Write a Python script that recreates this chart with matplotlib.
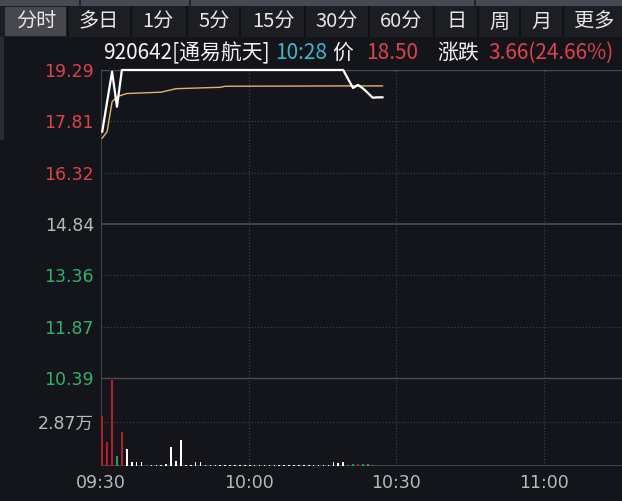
import matplotlib
matplotlib.use("Agg")
import matplotlib.pyplot as plt
from matplotlib.patches import Rectangle
from matplotlib.lines import Line2D

plt.rcParams['font.family'] = ['DejaVu Sans', 'Noto Sans CJK SC']

# ---------------- data ----------------
tabs = ["分时", "多日", "1分", "5分", "15分", "30分", "60分", "日", "周", "月", "更多"]
stock_code = "920642[通易航天]"
quote_time = "10:28"
last_price = "18.50"
change_text = "3.66(24.66%)"

price_ticks = [19.29, 17.81, 16.32, 14.84, 13.36, 11.87, 10.39]
prev_close = 14.84
time_ticks = [0, 30, 60, 90]
time_labels = ["09:30", "10:00", "10:30", "11:00"]

price_min = [0, 1, 2, 3, 4, 49, 50, 51, 52, 53, 54, 55, 56, 57]
price_val = [17.51, 18.38, 19.24, 18.23, 19.29, 19.29, 19.03, 18.77, 18.86,
             18.76, 18.63, 18.49, 18.50, 18.50]

avg_min = [0, 1, 2, 3, 5, 12, 15, 24, 25, 49, 57]
avg_val = [17.32, 17.51, 18.37, 18.52, 18.61, 18.65, 18.75, 18.79, 18.82, 18.83, 18.83]

# volume per minute (万) and direction: r=up, g=down, w=flat
vol = [3.26, 1.57, 5.60, 0.65, 2.20, 1.10, 0.28, 0.25, 0.25, 0.03,
       0.05, 0.05, 0.06, 0.12, 1.26, 0.35, 1.70, 0.05, 0.08, 0.26,
       0.26, 0.08, 0.06, 0.06, 0.05, 0.06, 0.05, 0.06, 0.05, 0.05,
       0.06, 0.05, 0.05, 0.06, 0.05, 0.05, 0.06, 0.05, 0.05, 0.06,
       0.05, 0.05, 0.06, 0.05, 0.05, 0.06, 0.08, 0.25, 0.18, 0.25,
       0.05, 0.10, 0.12, 0.10, 0.10, 0.06, 0.03, 0.03]
vol_dir = "rrrgrwwwwwwwwwwwwwwwwwwwwwwwwwwwwwwwwwwwwwwwwwwwwwggrgggrw"
vol_tick = 2.87
vol_top = 5.74

# ---------------- style ----------------
W, H = 622, 501
BG = "#13151b"
GRID = "#3a3d46"
AXIS = "#4a4d55"
RED = "#e0414b"
GREEN = "#2db36a"
GRAY = "#b8b9bd"
BAR_RED = "#b3202b"
BAR_GREEN = "#2a9d55"
HDR_FONT = ['Noto Sans CJK SC', 'DejaVu Sans']

fig = plt.figure(figsize=(W / 100, H / 100), dpi=100, facecolor=BG)


def fx(x):
    return x / W


def fy(y):
    return 1 - y / H


def rect(x0, y0, x1, y1, color):
    fig.add_artist(Rectangle((fx(x0), fy(y1)), fx(x1) - fx(x0), fy(y0) - fy(y1),
                             transform=fig.transFigure, facecolor=color,
                             edgecolor="none", zorder=0))


def vline(x, y0, y1, color, lw=1.0):
    fig.add_artist(Line2D([fx(x), fx(x)], [fy(y0), fy(y1)], transform=fig.transFigure,
                          color=color, lw=lw, zorder=1))


# top strip
rect(0, 0, W, 6, "#474a52")
for xd in [80, 190, 475]:
    vline(xd, 0, 6, "#23252b", 1.5)
# tab bar
rect(0, 6, W, 37, "#1c1e23")
rect(5, 7, 66, 36, "#46484e")
for xd in [68, 131, 187, 240, 305, 369, 434, 478, 520, 563]:
    vline(xd, 7, 37, "#0e0f12", 1.2)
tab_x = [36, 99, 158, 214, 273, 337, 401, 456, 499, 542, 594]
for t, x in zip(tabs, tab_x):
    fig.text(fx(x), fy(22), t, ha="center", va="center", fontsize=14.5,
             family=HDR_FONT, color="#e6e6e8")
# left strip
rect(0, 37, 4, 140, "#2a2c32")

# header
hy = fy(53)
hs = 15
fig.text(fx(103), hy, stock_code, ha="left", va="center", fontsize=hs, family=HDR_FONT, color="#f2f2f2")
fig.text(fx(275), hy, quote_time, ha="left", va="center", fontsize=hs, family=HDR_FONT, color="#3fb6c6")
fig.text(fx(332), hy, "价", ha="left", va="center", fontsize=hs, family=HDR_FONT, color="#f2f2f2")
fig.text(fx(366), hy, last_price, ha="left", va="center", fontsize=hs, family=HDR_FONT, color=RED)
fig.text(fx(437), hy, "涨跌", ha="left", va="center", fontsize=hs, family=HDR_FONT, color="#f2f2f2")
fig.text(fx(488), hy, change_text, ha="left", va="center", fontsize=hs, family=HDR_FONT, color=RED)

# ---------------- axes ----------------
X0, X1 = 101, 622
PY0, PY1 = 70, 378
VY0, VY1 = 378, 466
px_per_min = 4.917
xmax = (X1 - X0) / px_per_min
off = 0.25

axp = fig.add_axes([fx(X0), fy(PY1), fx(X1) - fx(X0), fy(PY0) - fy(PY1)], facecolor=BG)
axv = fig.add_axes([fx(X0), fy(VY1), fx(X1) - fx(X0), fy(VY0) - fy(VY1)], facecolor=BG)

for ax in (axp, axv):
    ax.set_xlim(0, xmax)
    for s in ax.spines.values():
        s.set_visible(False)
    ax.tick_params(length=0)
    for t in time_ticks[1:]:
        ax.axvline(t, color=GRID, lw=0.9, ls=(0, (1, 1.5)), zorder=1)
    ax.axvline(0, color=AXIS, lw=1.2, zorder=2)

axp.set_ylim(price_ticks[-1], price_ticks[0])
axp.set_yticks(price_ticks)
axp.set_yticklabels([f"{p:.2f}" for p in price_ticks], fontsize=12.5)
for lab, p in zip(axp.get_yticklabels(), price_ticks):
    lab.set_color(RED if p > prev_close + 1e-6 else (GREEN if p < prev_close - 1e-6 else GRAY))
axp.tick_params(axis="y", pad=5)
axp.set_xticks([])
for p in price_ticks:
    if abs(p - prev_close) < 1e-6:
        axp.axhline(p, color=AXIS, lw=1.2, zorder=1)
    elif p == price_ticks[0] or p == price_ticks[-1]:
        axp.axhline(p, color=AXIS, lw=1.0, zorder=1)
    else:
        axp.axhline(p, color=GRID, lw=0.9, ls=(0, (1, 1.5)), zorder=1)

axp.plot([m + off for m in avg_min], avg_val, color="#e2b36f", lw=1.0, zorder=3, clip_on=False)
axp.plot([m + off for m in price_min], price_val, color="white", lw=1.6, zorder=4, clip_on=False)

axv.set_ylim(0, vol_top)
axv.set_yticks([vol_tick])
axv.set_yticklabels([f"{vol_tick:.2f}万"], fontsize=12.5, color=GRAY)
axv.tick_params(axis="y", pad=5)
axv.axhline(vol_tick, color=GRID, lw=0.9, ls=(0, (1, 1.5)), zorder=1)
axv.axhline(0, color=AXIS, lw=1.2, zorder=2)
axv.axhline(vol_top, color=AXIS, lw=1.0, zorder=2)
cmap = {"r": BAR_RED, "g": BAR_GREEN, "w": "white"}
axv.bar([i + off for i in range(len(vol))], vol, width=0.33,
        color=[cmap[c] for c in vol_dir], zorder=3)
axv.set_xticks(time_ticks)
axv.set_xticklabels(time_labels, fontsize=12.5, color=GRAY)
axv.tick_params(axis="x", pad=6)

fig.savefig("out.png", dpi=100, facecolor=BG)
